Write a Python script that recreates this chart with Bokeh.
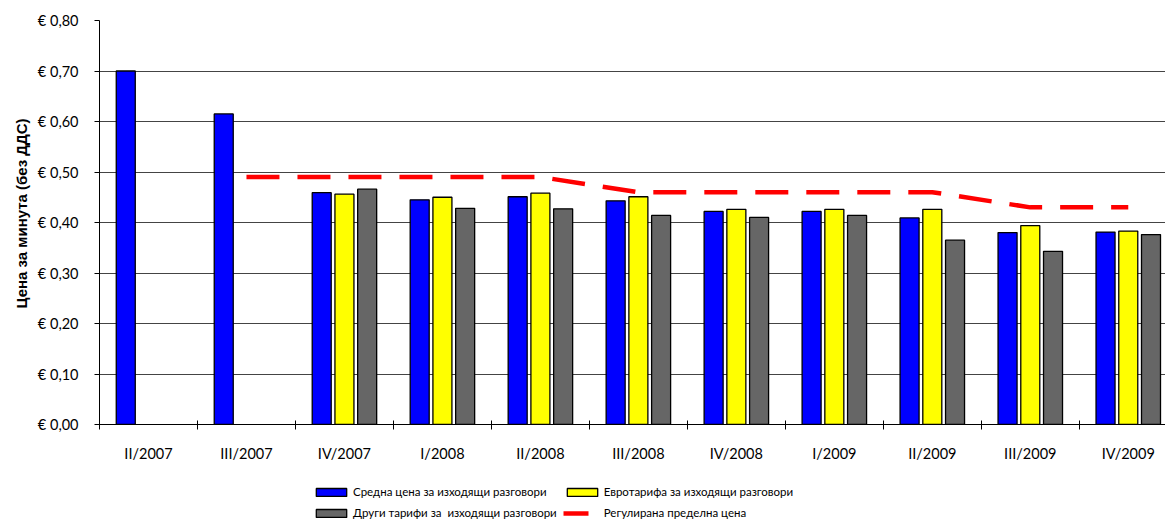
import numpy as np
from bokeh.plotting import figure
from bokeh.layouts import column
from bokeh.models import (ColumnDataSource, Range1d, FixedTicker, CustomJSTickFormatter,
                          Legend, LegendItem, Title)
from bokeh.transform import dodge
from bokeh.embed import file_html
from bokeh.resources import INLINE

categories = ["II/2007", "III/2007", "IV/2007", "I/2008", "II/2008", "III/2008",
              "IV/2008", "I/2009", "II/2009", "III/2009", "IV/2009"]
avg_price = [0.700, 0.615, 0.459, 0.445, 0.451, 0.443, 0.422, 0.422, 0.409, 0.380, 0.381]
eurotariff = [np.nan, np.nan, 0.456, 0.450, 0.458, 0.451, 0.426, 0.426, 0.426, 0.394, 0.383]
other_tariffs = [np.nan, np.nan, 0.466, 0.428, 0.427, 0.414, 0.410, 0.414, 0.365, 0.343, 0.376]
regulated_cap = [np.nan, 0.49, 0.49, 0.49, 0.49, 0.46, 0.46, 0.46, 0.46, 0.43, 0.43]
y_ticks = [0.0, 0.1, 0.2, 0.3, 0.4, 0.5, 0.6, 0.7, 0.8]

series_labels = ["Средна цена за изходящи разговори",
                 "Евротарифа за изходящи разговори",
                 "Други тарифи за  изходящи разговори",
                 "Регулирана пределна цена"]
y_title = "Цена за минута (без ДДС)"

FONT = "Lato"
W = 1165

idx = list(range(len(categories)))
src = ColumnDataSource(dict(x=idx, avg=avg_price, euro=eurotariff, other=other_tariffs,
                            reg=regulated_cap))

p = figure(width=W, height=470, output_backend="svg", toolbar_location=None,
           x_range=Range1d(-0.5, 10.38), y_range=Range1d(0, 0.8),
           min_border_left=99, min_border_right=0, min_border_top=20, min_border_bottom=46)
p.outline_line_color = None
p.background_fill_color = "white"

bw = 0.194
off = 0.232
r1 = p.vbar(x=dodge("x", -off), top="avg", width=bw, source=src,
            fill_color="#0000FF", line_color="#000000", line_width=1.3)
r2 = p.vbar(x="x", top="euro", width=bw, source=src,
            fill_color="#FFFF00", line_color="#000000", line_width=1.3)
r3 = p.vbar(x=dodge("x", off), top="other", width=bw, source=src,
            fill_color="#666666", line_color="#000000", line_width=1.3)
r4 = p.line(x="x", y="reg", source=src, line_color="#FF0000", line_width=4.5,
            line_dash="33 18")

# x axis
p.xaxis.ticker = FixedTicker(ticks=idx, minor_ticks=[i - 0.5 for i in range(len(categories) + 1)])
p.xaxis.major_label_overrides = {i: c for i, c in zip(idx, categories)}
p.xaxis.major_tick_in = 0
p.xaxis.major_tick_out = 0
p.xaxis.minor_tick_in = 4
p.xaxis.minor_tick_out = 5
p.xaxis.minor_tick_line_color = "#000000"
p.xaxis.axis_line_color = "#000000"
p.xaxis.major_label_standoff = 15
p.xaxis.major_label_text_font = FONT
p.xaxis.major_label_text_font_size = "14.5px"
p.xaxis.major_label_text_color = "#000000"

# y axis
p.yaxis.ticker = FixedTicker(ticks=y_ticks)
p.yaxis.formatter = CustomJSTickFormatter(code="return '€ ' + tick.toFixed(2).replace('.', ',');")
p.yaxis.major_tick_in = 0
p.yaxis.major_tick_out = 5
p.yaxis.minor_tick_line_color = None
p.yaxis.axis_line_color = "#000000"
p.yaxis.major_tick_line_color = "#000000"
p.yaxis.major_label_standoff = 16
p.yaxis.major_label_text_font = FONT
p.yaxis.major_label_text_font_size = "14.5px"
p.yaxis.major_label_text_color = "#000000"

p.xgrid.grid_line_color = None
p.ygrid.ticker = FixedTicker(ticks=y_ticks)
p.ygrid.grid_line_color = "#444444"
p.ygrid.grid_line_width = 1

t = Title(text=y_title, align="right", offset=98, text_font="Liberation Sans",
          text_font_size="15px", text_font_style="bold", text_color="#000000", standoff=9)
p.add_layout(t, "left")

# legend strip: same series as hidden renderers, only their legend glyphs show
lp = figure(width=W, height=50, output_backend="svg", toolbar_location=None,
            x_axis_location=None, y_axis_location=None, min_border=0,
            x_range=Range1d(20, 21), y_range=Range1d(-3, -2))
lp.outline_line_color = None
lp.grid.visible = False
l1 = lp.vbar(x="x", top="avg", width=bw, source=src, fill_color="#0000FF",
             line_color="#000000", line_width=1.3, visible=False)
l2 = lp.vbar(x="x", top="euro", width=bw, source=src, fill_color="#FFFF00",
             line_color="#000000", line_width=1.3, visible=False)
l3 = lp.vbar(x="x", top="other", width=bw, source=src, fill_color="#666666",
             line_color="#000000", line_width=1.3, visible=False)
l4 = lp.line(x="x", y="reg", source=src, line_color="#FF0000", line_width=4.5,
             line_dash="25 100", visible=False)

legend = Legend(items=[LegendItem(label=series_labels[0], renderers=[l1], index=2),
                       LegendItem(label=series_labels[1], renderers=[l2], index=2),
                       LegendItem(label=series_labels[2], renderers=[l3], index=2),
                       LegendItem(label=series_labels[3], renderers=[l4])],
                orientation="horizontal", ncols=2, location=(213, 0), click_policy="none",
                glyph_width=38, glyph_height=10, label_standoff=3, spacing=6,
                label_height=15, padding=0, margin=0, border_line_color=None,
                background_fill_alpha=0, label_text_font=FONT,
                label_text_font_size="11.5px", label_text_color="#000000")
lp.add_layout(legend, "center")

layout = column(p, lp, spacing=0)
open("out.html", "w").write(file_html(layout, INLINE))
